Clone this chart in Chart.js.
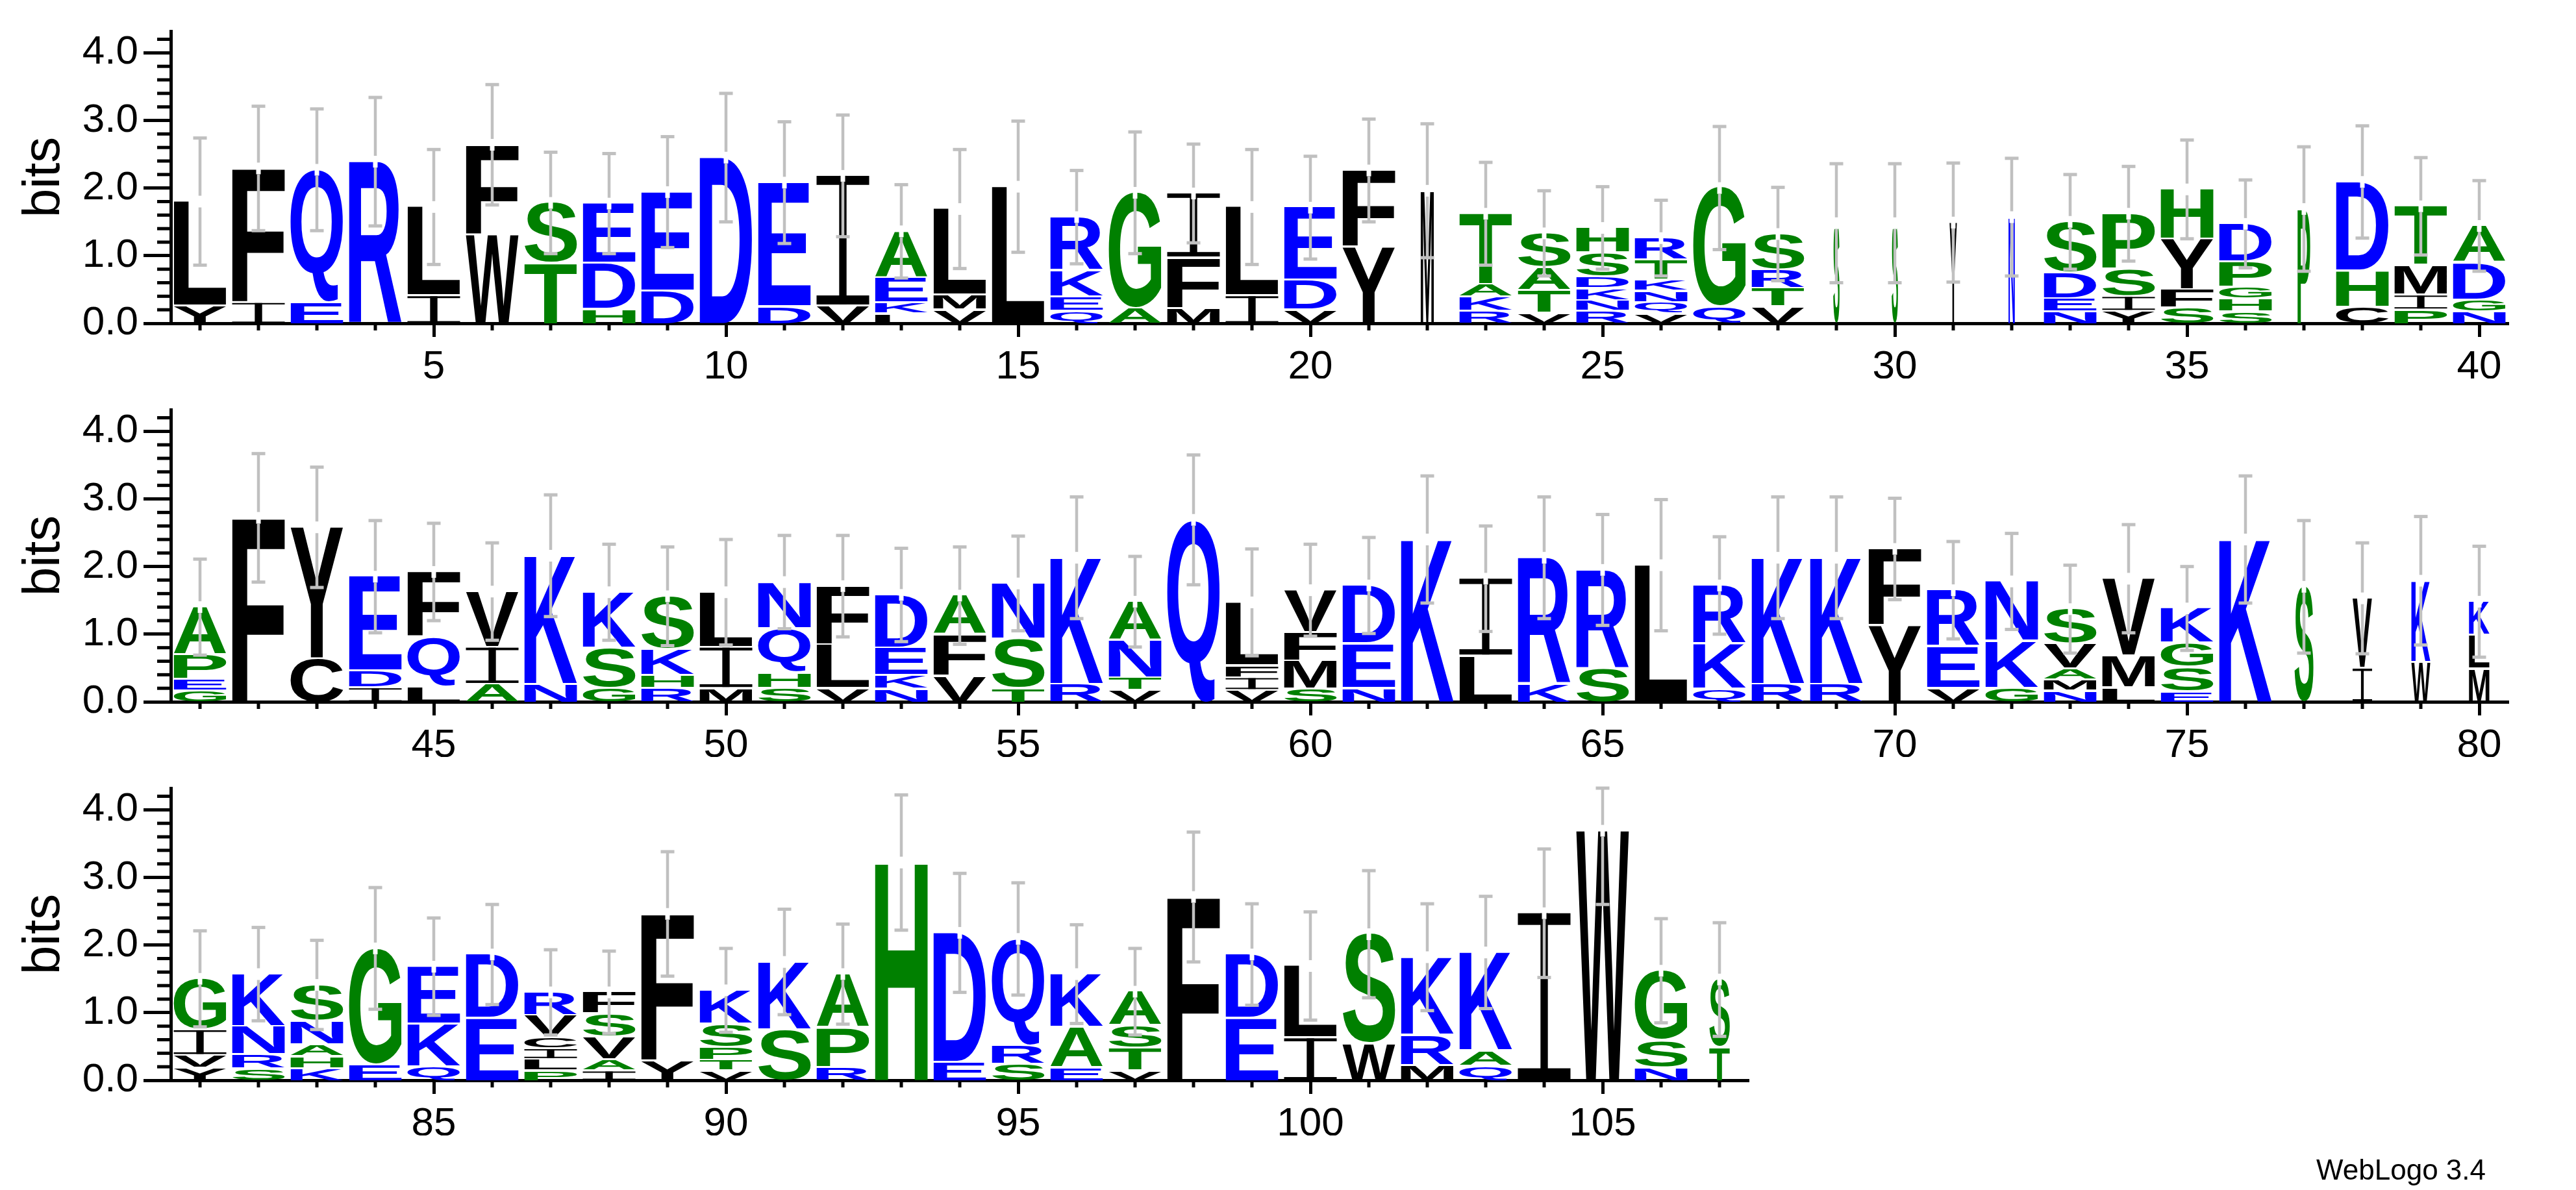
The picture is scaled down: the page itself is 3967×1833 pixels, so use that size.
<!DOCTYPE html>
<html>
<head>
<meta charset="utf-8">
<title>WebLogo</title>
<script src="https://cdn.jsdelivr.net/npm/chart.js@4.4.1/dist/chart.umd.min.js"></script>
<style>
  html, body { margin: 0; padding: 0; background: #fff; }
  #page { position: relative; width: 3967px; height: 1833px; overflow: hidden; }
  #page canvas { position: absolute; left: 0; }
  #credit { position: absolute; right: 139px; top: 1780px; font: 44px "Liberation Sans", Arial, sans-serif; line-height: 44px; color: #000; }
</style>
</head>
<body>
<div id="page">
  <canvas id="row1" width="3967" height="640" style="top:0px"></canvas>
  <canvas id="row2" width="3967" height="640" style="top:583px"></canvas>
  <canvas id="row3" width="3967" height="640" style="top:1166px"></canvas>
  <div id="credit">WebLogo 3.4</div>
</div>
<script>
// sequence positions (x categories)
const positions = Array.from({ length: 107 }, (_, i) => i + 1);
const rowRanges = [[1, 40], [41, 80], [81, 107]];

// letters of each stack, bottom to top
const stackLetters = [
  "YL", "IF", "EQ", "R", "IL", "WF", "TS", "HDE", "DE", "D",
  "DE", "VI", "LKEA", "VML", "L", "QEKR", "AG", "MFI", "IL", "VDE",
  "YF", "M", "RKAT", "VTAS", "RNKDSH", "VQNKTR", "QG", "VTRS", "S", "S",
  "Y", "N", "NEDS", "YISP", "SFYH", "SHGPD", "P", "CHD", "PIMT", "NGDA",
  "GEPA", "F", "CY", "IDE", "LQF", "AIV", "NK", "GSK", "RHKS", "MIL",
  "SHQN", "VLF", "NKED", "VFA", "TSN", "RK", "VTNA", "Q", "VIFL", "SMFV",
  "NED", "K", "LI", "KR", "SR", "L", "QKR", "RK", "RK", "YF",
  "VER", "GKN", "NMAVS", "LMV", "ESGK", "K", "S", "IV", "WK", "MLK",
  "YVIG", "SRNK", "KHANS", "EG", "QKE", "ED", "PLICVR", "IAVSF", "YF", "VTPSK",
  "SK", "RPA", "H", "ED", "SRQ", "EAK", "VTSA", "F", "ED", "IL",
  "WS", "MRK", "QAK", "I", "W", "NSG", "TS"
];

// height of each letter in bits, bottom to top
const stackBits = [
  [0.25, 1.55], [0.30, 1.99], [0.30, 1.97], [2.39], [0.40, 1.32],
  [1.31, 1.33], [0.88, 0.90], [0.20, 0.68, 0.89], [0.47, 1.47], [2.45],
  [0.24, 1.84], [0.25, 1.93], [0.13, 0.17, 0.37, 0.69], [0.19, 0.22, 1.28], [2.02],
  [0.17, 0.21, 0.39, 0.80], [0.21, 1.72], [0.21, 0.75, 0.96], [0.40, 1.32], [0.19, 0.44, 1.08],
  [1.12, 1.14], [1.96], [0.17, 0.21, 0.19, 1.05], [0.14, 0.34, 0.34, 0.51], [0.17, 0.16, 0.18, 0.17, 0.36, 0.37],
  [0.13, 0.17, 0.17, 0.16, 0.30, 0.33], [0.23, 1.77], [0.24, 0.27, 0.27, 0.54], [1.48], [1.48],
  [1.49], [1.57], [0.16, 0.20, 0.38, 0.76], [0.17, 0.22, 0.41, 0.82], [0.22, 0.27, 0.75, 0.74],
  [0.16, 0.19, 0.18, 0.37, 0.57], [1.69], [0.23, 0.54, 1.32], [0.19, 0.22, 0.44, 0.88], [0.16, 0.18, 0.55, 0.55],
  [0.15, 0.18, 0.36, 0.71], [2.72], [0.63, 1.95], [0.20, 0.25, 1.40], [0.21, 0.74, 0.97],
  [0.25, 0.55, 0.83], [0.25, 1.91], [0.19, 0.60, 0.83], [0.19, 0.19, 0.39, 0.79], [0.19, 0.61, 0.82],
  [0.19, 0.23, 0.66, 0.69], [0.19, 0.65, 0.87], [0.18, 0.20, 0.41, 0.79], [0.37, 0.61, 0.59], [0.19, 0.73, 0.83],
  [0.25, 1.88], [0.16, 0.19, 0.56, 0.57], [2.69], [0.16, 0.19, 0.18, 0.94], [0.18, 0.42, 0.42, 0.63],
  [0.19, 0.66, 0.87], [2.40], [0.67, 1.15], [0.25, 1.88], [0.48, 1.47],
  [2.02], [0.18, 0.67, 0.87], [0.25, 1.88], [0.25, 1.88], [1.12, 1.14],
  [0.19, 0.62, 0.84], [0.19, 0.70, 0.89], [0.15, 0.17, 0.16, 0.37, 0.52], [0.20, 0.47, 1.15], [0.14, 0.36, 0.36, 0.52],
  [2.40], [1.70], [0.49, 1.04], [0.58, 1.21], [0.48, 0.50, 0.50],
  [0.17, 0.19, 0.38, 0.76], [0.16, 0.21, 0.42, 0.78], [0.16, 0.18, 0.18, 0.35, 0.54], [0.22, 1.73], [0.19, 0.64, 0.85],
  [0.91, 0.95], [0.13, 0.17, 0.16, 0.17, 0.32, 0.35], [0.13, 0.17, 0.33, 0.35, 0.32], [0.28, 2.18], [0.13, 0.16, 0.19, 0.35, 0.50],
  [0.74, 1.01], [0.18, 0.59, 0.80], [3.22], [0.26, 1.92], [0.23, 0.27, 1.59],
  [0.18, 0.60, 0.79], [0.13, 0.34, 0.33, 0.51], [2.71], [0.91, 0.95], [0.62, 1.07],
  [0.53, 1.63], [0.21, 0.45, 1.16], [0.20, 0.23, 1.46], [2.47], [3.69],
  [0.18, 0.40, 1.04], [0.48, 1.01]
];

// error of each stack (bits)
const errorBits = [
  0.94, 0.92, 0.90, 0.95, 0.85, 0.89, 0.75, 0.74, 0.82, 0.95,
  0.90, 0.90, 0.69, 0.88, 0.97, 0.69, 0.90, 0.73, 0.85, 0.76,
  0.76, 0.99, 0.76, 0.63, 0.61, 0.56, 0.91, 0.69, 0.88, 0.88,
  0.88, 0.87, 0.70, 0.70, 0.73, 0.65, 0.92, 0.83, 0.72, 0.67,
  0.71, 0.95, 0.89, 0.83, 0.72, 0.72, 0.90, 0.71, 0.73, 0.78,
  0.69, 0.75, 0.69, 0.72, 0.70, 0.90, 0.67, 0.96, 0.79, 0.68,
  0.71, 0.94, 0.78, 0.90, 0.82, 0.97, 0.72, 0.90, 0.90, 0.75,
  0.72, 0.71, 0.65, 0.80, 0.62, 0.94, 0.98, 0.82, 0.95, 0.82,
  0.71, 0.69, 0.66, 0.90, 0.72, 0.74, 0.63, 0.61, 0.92, 0.62,
  0.78, 0.74, 1.00, 0.88, 0.83, 0.73, 0.64, 0.96, 0.75, 0.80,
  0.94, 0.79, 0.83, 0.95, 1.09, 0.77, 0.84
];

// fraction of sequences without a gap (scales the stack width)
const occupancy = [
  1, 1, 1, 1, 1, 1, 1, 1, 1, 1,
  1, 1, 1, 1, 1, 1, 1, 1, 1, 1,
  1, 0.25, 1, 1, 1, 1, 1, 1, 0.12, 0.12,
  0.14, 0.12, 1, 1, 1, 1, 0.24, 1, 1, 1,
  1, 1, 1, 1, 1, 1, 1, 1, 1, 1,
  1, 1, 1, 1, 1, 1, 1, 1, 1, 1,
  1, 1, 1, 1, 1, 1, 1, 1, 1, 1,
  1, 1, 1, 1, 1, 1, 0.36, 0.37, 0.36, 0.39,
  1, 1, 1, 1, 1, 1, 1, 1, 1, 1,
  1, 1, 1, 1, 1, 1, 1, 1, 1, 1,
  1, 1, 1, 1, 1, 1, 0.39
];

const maxBits = 4.32;
const hydrophilic = "RKDENQ";
const neutral = "SGHTAP";
const FONT = '"Liberation Sans", Arial, sans-serif';

function colorOf(ch) {
  if (hydrophilic.includes(ch)) return "#0000ff";
  if (neutral.includes(ch)) return "#008000";
  return "#000000";
}

// stretch one glyph into the box x,y,w,h
function drawGlyph(ctx, ch, x, y, w, h) {
  if (h < 0.5 || w < 0.5) return;
  ctx.save();
  ctx.fillStyle = colorOf(ch);
  if (ch === "I") {
    const bar = Math.max(2, h * 0.07);
    const stem = Math.max(2, w * 0.14);
    ctx.fillRect(x, y, w, bar);
    ctx.fillRect(x, y + h - bar, w, bar);
    ctx.fillRect(x + (w - stem) / 2, y, stem, h);
  } else {
    ctx.font = "bold 200px " + FONT;
    ctx.textAlign = "left";
    ctx.textBaseline = "alphabetic";
    const m = ctx.measureText(ch);
    const gw = m.actualBoundingBoxLeft + m.actualBoundingBoxRight;
    const gh = m.actualBoundingBoxAscent + m.actualBoundingBoxDescent;
    ctx.translate(x, y);
    ctx.scale(w / gw, h / gh);
    ctx.fillText(ch, m.actualBoundingBoxLeft, m.actualBoundingBoxAscent);
  }
  ctx.restore();
}

function isLabelled(c) {
  return c.tick && c.tick.label !== "";
}

function logoPlugin(totals, errs) {
  return {
    id: "logo",
    afterDatasetsDraw(chart) {
      const ctx = chart.ctx;
      // letters
      chart.data.datasets.forEach((ds, di) => {
        chart.getDatasetMeta(di).data.forEach((bar, i) => {
          const ch = ds.letters[i];
          if (!ch) return;
          const p = bar.getProps(["x", "y", "base", "width"], true);
          const w = p.width * ds.occupancy[i];
          const top = Math.min(p.y, p.base);
          const bottom = Math.max(p.y, p.base) - (di > 0 ? 3 : 0);
          drawGlyph(ctx, ch, p.x - w / 2, top, w, bottom - top);
        });
      });
      // error bars
      const xs = chart.scales.x, ys = chart.scales.y;
      ctx.save();
      totals.forEach((t, i) => {
        const x = xs.getPixelForValue(i);
        const yT = ys.getPixelForValue(t);
        const yHi = ys.getPixelForValue(Math.min(maxBits, t + errs[i]));
        const yLo = ys.getPixelForValue(Math.max(0, t - errs[i]));
        ctx.fillStyle = "#ffffff";
        ctx.fillRect(x - 3.5, yT - 9, 7, 18);
        ctx.fillStyle = "#c0c0c0";
        ctx.fillRect(x - 2.25, yHi, 4.5, (yT - 9) - yHi);
        ctx.fillRect(x - 2.25, yT + 9, 4.5, yLo - (yT + 9));
        ctx.fillRect(x - 10.5, yHi - 2.5, 21, 5);
        ctx.fillRect(x - 10.5, yLo - 2.5, 21, 5);
      });
      ctx.restore();
    },
    afterDraw(chart) {
      // minor tick marks
      const ctx = chart.ctx;
      const xs = chart.scales.x, ys = chart.scales.y;
      ctx.save();
      ctx.fillStyle = "#000";
      xs.ticks.forEach((t, i) => {
        if (t.label !== "") return;
        const x = xs.getPixelForTick(i);
        ctx.fillRect(x - 2.5, xs.top, 5, 11);
      });
      ys.ticks.forEach((t, i) => {
        if (t.label !== "" || t.value > 4.25) return;
        const y = ys.getPixelForValue(t.value);
        ctx.fillRect(ys.right - 21, y - 2.5, 21, 5);
      });
      ctx.restore();
    }
  };
}

function buildRow(canvasId, first, last) {
  const idx = [];
  for (let p = first; p <= last; p++) idx.push(p - 1);
  const labels = idx.map(i => String(positions[i]));
  const depth = Math.max(...idx.map(i => stackLetters[i].length));
  const datasets = [];
  for (let L = 0; L < depth; L++) {
    datasets.push({
      data: idx.map(i => {
        const h = stackBits[i];
        if (L >= h.length) return null;
        const s = h.slice(0, L).reduce((a, b) => a + b, 0);
        return [s, s + h[L]];
      }),
      letters: idx.map(i => stackLetters[i][L] || null),
      occupancy: idx.map(i => occupancy[i]),
      backgroundColor: "rgba(0,0,0,0)",
      borderWidth: 0,
      grouped: false,
      categoryPercentage: 0.9,
      barPercentage: 1
    });
  }
  const totals = idx.map(i => stackBits[i].reduce((a, b) => a + b, 0));
  const errs = idx.map(i => errorBits[i]);
  const colWidth = 90;
  const rightPad = 3967 - (263 + idx.length * colWidth);

  new Chart(document.getElementById(canvasId), {
    type: "bar",
    data: { labels: labels, datasets: datasets },
    options: {
      responsive: false,
      animation: false,
      devicePixelRatio: 1,
      layout: { padding: { top: 48, right: rightPad, bottom: 57, left: 0 } },
      plugins: { legend: { display: false }, tooltip: { enabled: false } },
      scales: {
        x: {
          type: "category",
          offset: true,
          grid: {
            display: true, drawOnChartArea: false, offset: false, drawTicks: true,
            tickLength: 21, tickWidth: 5,
            tickColor: c => isLabelled(c) ? "#000" : "rgba(0,0,0,0)"
          },
          border: { display: true, color: "#000", width: 5 },
          ticks: {
            autoSkip: false, maxRotation: 0, minRotation: 0, padding: 10, color: "#000",
            font: { family: FONT, size: 62 },
            callback: function (v) {
              const l = this.getLabelForValue(v);
              return Number(l) % 5 === 0 ? l : "";
            }
          },
          afterFit: s => { s.height = 85; }
        },
        y: {
          min: 0,
          max: maxBits,
          grid: {
            display: true, drawOnChartArea: false, drawTicks: true,
            tickLength: 42, tickWidth: 5,
            tickColor: c => isLabelled(c) ? "#000" : "rgba(0,0,0,0)"
          },
          border: { display: true, color: "#000", width: 5 },
          ticks: {
            stepSize: 0.2, includeBounds: false, autoSkip: false, padding: 8, color: "#000",
            font: { family: FONT, size: 62 },
            callback: v => Math.abs(v - Math.round(v)) < 1e-6 ? v.toFixed(1) : ""
          },
          title: {
            display: true, text: "bits", color: "#000",
            font: { family: FONT, size: 80 },
            padding: { top: 21, bottom: 0 }
          },
          afterFit: s => { s.width = 263; }
        }
      }
    },
    plugins: [logoPlugin(totals, errs)]
  });
}

rowRanges.forEach((r, k) => buildRow("row" + (k + 1), r[0], r[1]));
</script>
</body>
</html>
